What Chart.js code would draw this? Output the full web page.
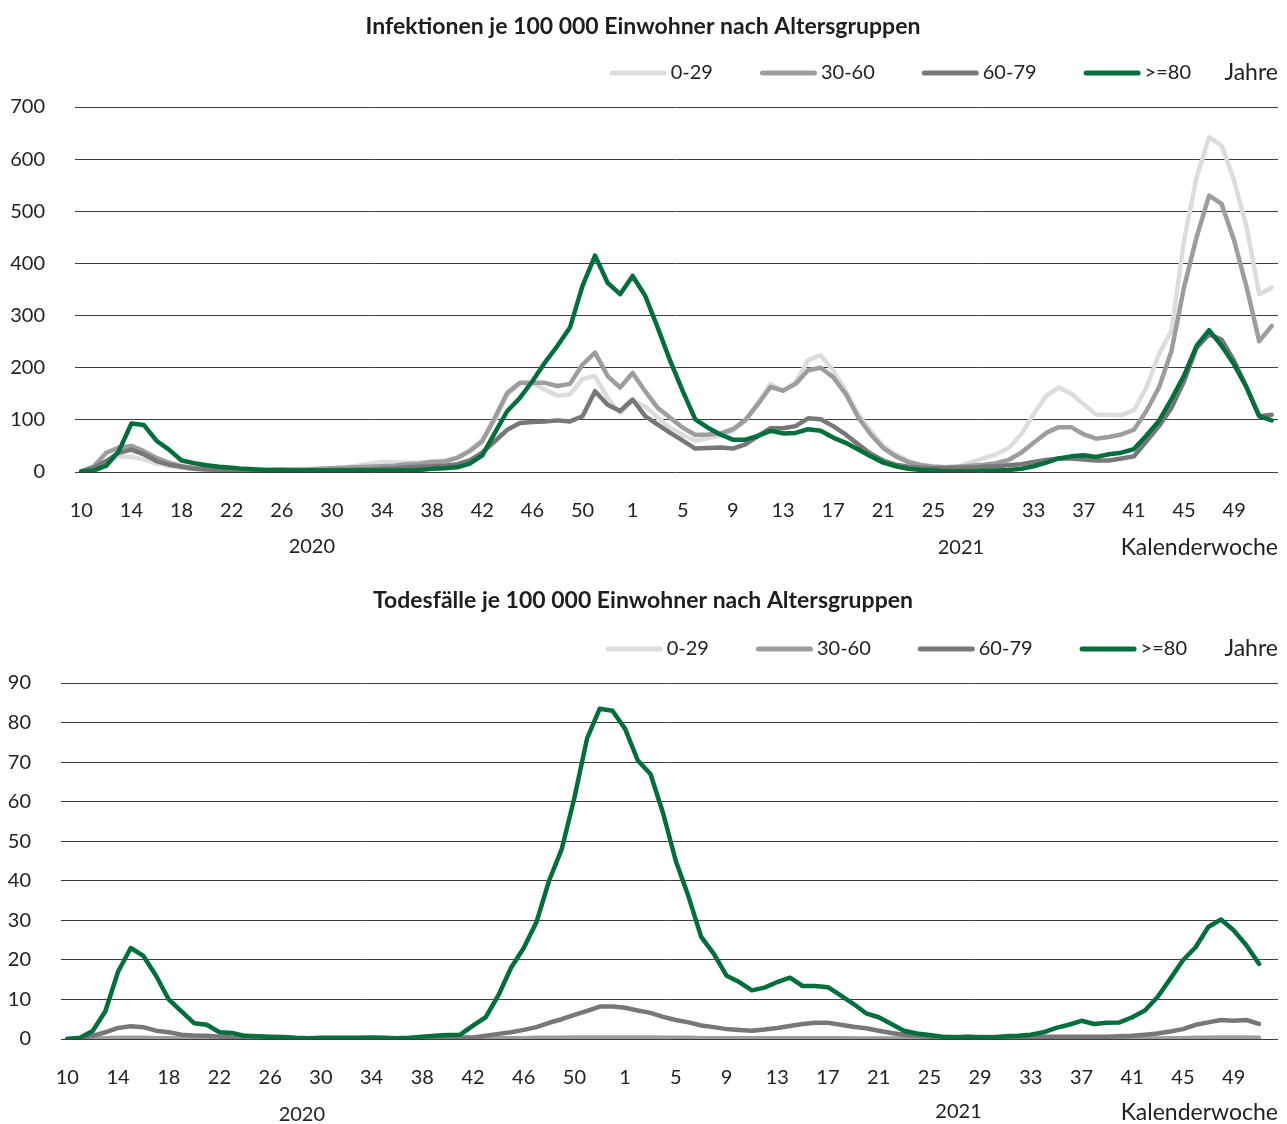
<!DOCTYPE html>
<html lang="de">
<head>
<meta charset="utf-8">
<script src="https://cdn.jsdelivr.net/npm/chart.js@4.4.1/dist/chart.umd.min.js"></script>
<style>
  html, body { margin: 0; padding: 0; background: #fff; }
  canvas { display: block; }
</style>
</head>
<body>
<canvas id="infChart" width="1287" height="565"></canvas>
<canvas id="todChart" width="1287" height="559"></canvas>
<script>
// Kalenderwochen 2020 KW10 bis 2021 KW52
const weeks2020 = [10, 11, 12, 13, 14, 15, 16, 17, 18, 19, 20, 21, 22, 23, 24, 25, 26, 27, 28, 29, 30,
  31, 32, 33, 34, 35, 36, 37, 38, 39, 40, 41, 42, 43, 44, 45, 46, 47, 48, 49, 50, 51, 52, 53];
const weeks2021 = [1, 2, 3, 4, 5, 6, 7, 8, 9, 10, 11, 12, 13, 14, 15, 16, 17, 18, 19, 20, 21, 22, 23, 24, 25, 26,
  27, 28, 29, 30, 31, 32, 33, 34, 35, 36, 37, 38, 39, 40, 41, 42, 43, 44, 45, 46, 47, 48, 49, 50, 51, 52];
const weeks = weeks2020.concat(weeks2021);

const ageGroups = ['0-29', '30-60', '60-79', '>=80'];
const colors = ['#dcdcdd', '#9d9d9f', '#77777a', '#006f3b'];

// Infektionen je 100 000 Einwohner
const inf0_29 = [1, 6, 18, 30, 29, 24, 16, 11, 8, 6, 4, 3, 3, 2, 2, 2, 3, 3, 4, 5, 7, 9, 12, 16, 19, 18,
  18, 18, 20, 22, 28, 42, 62, 100, 148, 170, 170, 158, 146, 149, 178, 184, 142, 113,
  136, 126, 104, 85, 71, 60, 65, 69, 79, 98, 134, 169, 156, 172, 214, 224, 195, 156, 111, 79,
  50, 34, 22, 14, 11, 9, 11, 19, 26, 34, 46, 72, 111, 146, 162, 150, 130, 110, 110, 109,
  118, 162, 226, 271, 444, 565, 642, 626, 559, 469, 341, 354];
const inf30_60 = [1, 11, 37, 47, 50, 40, 27, 18, 11, 8, 6, 4, 3, 3, 3, 4, 5, 5, 5, 6, 7, 8, 9, 10, 11, 12,
  15, 16, 19, 20, 27, 40, 59, 104, 152, 171, 171, 171, 165, 169, 206, 229, 184, 162,
  190, 155, 123, 104, 85, 71, 72, 74, 82, 100, 130, 163, 156, 169, 195, 200, 182, 150, 105, 72,
  46, 30, 19, 13, 10, 9, 10, 12, 14, 17, 23, 37, 56, 75, 86, 86, 72, 64, 67, 72,
  81, 117, 162, 232, 354, 450, 530, 514, 444, 354, 251, 280];
const inf60_79 = [1, 8, 21, 37, 43, 34, 21, 14, 10, 6, 5, 4, 3, 3, 3, 3, 3, 3, 3, 3, 4, 4, 5, 5, 6, 7,
  9, 10, 11, 12, 15, 22, 37, 59, 81, 94, 96, 97, 99, 97, 107, 155, 129, 117,
  139, 107, 91, 75, 60, 45, 46, 47, 45, 53, 69, 84, 84, 88, 103, 101, 88, 72, 53, 35,
  22, 14, 10, 8, 7, 7, 8, 8, 10, 11, 13, 15, 19, 23, 26, 26, 24, 22, 22, 26,
  30, 59, 88, 123, 174, 238, 264, 254, 213, 162, 107, 110];
const inf80 = [1, 3, 12, 40, 93, 90, 60, 43, 22, 17, 13, 10, 8, 6, 5, 4, 4, 3, 3, 3, 3, 3, 3, 3, 3, 3,
  3, 4, 6, 7, 9, 16, 32, 75, 117, 142, 174, 210, 242, 277, 357, 415, 363, 341,
  376, 338, 277, 213, 155, 101, 85, 72, 62, 62, 69, 79, 74, 75, 82, 79, 66, 56, 43, 30,
  18, 11, 6, 4, 3, 1, 1, 1, 2, 3, 4, 6, 11, 18, 26, 30, 32, 29, 34, 37,
  44, 70, 98, 140, 185, 242, 272, 242, 206, 162, 107, 99];

// Todesfälle je 100 000 Einwohner (bis 2021 KW51)
const tod0_29 = [0, 0, 0, 0, 0, 0, 0, 0, 0, 0, 0, 0, 0, 0, 0, 0, 0, 0, 0, 0, 0, 0, 0, 0, 0, 0,
  0, 0, 0, 0, 0, 0, 0, 0, 0, 0, 0, 0, 0, 0, 0, 0, 0, 0,
  0, 0, 0, 0, 0, 0, 0, 0, 0, 0, 0, 0, 0, 0, 0, 0, 0, 0, 0, 0,
  0, 0, 0, 0, 0, 0, 0, 0, 0, 0, 0, 0, 0, 0, 0, 0, 0, 0, 0, 0,
  0, 0, 0, 0, 0, 0, 0, 0, 0, 0, 0, null];
const tod30_60 = [0, 0, 0.1, 0.2, 0.3, 0.3, 0.3, 0.2, 0.2, 0.1, 0.1, 0.1, 0.1, 0.1, 0.1, 0, 0, 0, 0, 0, 0, 0, 0, 0, 0, 0,
  0, 0, 0, 0, 0, 0.1, 0.1, 0.1, 0.2, 0.2, 0.2, 0.3, 0.3, 0.3, 0.4, 0.4, 0.4, 0.4,
  0.4, 0.4, 0.4, 0.3, 0.3, 0.3, 0.2, 0.2, 0.2, 0.2, 0.2, 0.2, 0.2, 0.2, 0.2, 0.2, 0.2, 0.2, 0.1, 0.1,
  0.1, 0.1, 0.1, 0, 0, 0, 0, 0, 0, 0, 0, 0, 0, 0, 0.1, 0.1, 0.1, 0.1, 0.1, 0.1,
  0.1, 0.1, 0.1, 0.2, 0.2, 0.3, 0.3, 0.4, 0.4, 0.4, 0.3, null];
const tod60_79 = [0, 0.2, 0.8, 1.7, 2.8, 3.2, 3.0, 2.1, 1.7, 1.1, 0.9, 0.8, 0.6, 0.4, 0.3, 0.3, 0.3, 0.2, 0.2, 0.2,
  0.2, 0.2, 0.2, 0.2, 0.2, 0.2, 0.2, 0.2, 0.2, 0.3, 0.3, 0.4, 0.4, 0.8, 1.3, 1.7, 2.3, 3.0, 4.1, 5.0, 6.1, 7.1, 8.2, 8.2,
  7.9, 7.2, 6.6, 5.6, 4.8, 4.2, 3.4, 3.0, 2.5, 2.3, 2.1, 2.4, 2.8, 3.3, 3.8, 4.1, 4.1, 3.6, 3.1, 2.7,
  2.1, 1.5, 1.1, 0.8, 0.6, 0.5, 0.5, 0.5, 0.5, 0.5, 0.5, 0.5, 0.5, 0.6, 0.6, 0.6, 0.6, 0.6, 0.6, 0.7,
  0.8, 1.1, 1.4, 1.9, 2.5, 3.6, 4.2, 4.8, 4.6, 4.8, 3.8, null];
const tod80 = [0, 0.3, 2, 7, 17, 23, 21, 16, 10, 7, 4, 3.6, 1.7, 1.5, 0.8, 0.7, 0.6, 0.5, 0.3, 0.2,
  0.3, 0.3, 0.3, 0.3, 0.4, 0.3, 0.2, 0.3, 0.6, 0.8, 1.0, 1.1, 3.4, 5.5, 11, 18, 23, 29.5, 40, 48, 61, 76, 83.5, 83,
  78.4, 70.4, 67, 57, 45, 36, 25.8, 21.5, 16, 14.4, 12.3, 13, 14.4, 15.5, 13.4, 13.4, 13.1, 11, 8.9, 6.5,
  5.5, 3.8, 2.1, 1.4, 1.0, 0.6, 0.4, 0.6, 0.4, 0.4, 0.7, 0.8, 1.1, 1.7, 2.8, 3.6, 4.6, 3.8, 4.1, 4.2,
  5.5, 7.2, 10.6, 15.2, 19.9, 23.2, 28.3, 30.2, 27.5, 23.7, 19, null];

const FONT = 'Lato, "Noto Sans", sans-serif';
const TEXT = '#222222';
Chart.defaults.font.family = FONT;
Chart.defaults.font.size = 20;
Chart.defaults.color = TEXT;

// legend, year labels and axis caption drawn on the canvas
const notes = {
  id: 'notes',
  afterDraw(chart, args, opts) {
    const ctx = chart.ctx;
    const area = chart.chartArea;
    const x = chart.scales.x;
    const small = '20px ' + FONT;
    const word = '23px ' + FONT;
    ctx.save();
    ctx.fillStyle = TEXT;
    ctx.textBaseline = 'middle';
    ctx.textAlign = 'right';

    ctx.font = word;
    ctx.fillText(opts.unit, area.right, opts.legendY);
    let pos = area.right - opts.legendGap;
    ctx.font = small;
    const sets = chart.data.datasets;
    for (let i = sets.length - 1; i >= 0; i--) {
      const ds = sets[i];
      ctx.fillText(ds.label, pos, opts.legendY);
      const end = pos - ctx.measureText(ds.label).width - 4;
      const start = end - 57;
      ctx.beginPath();
      ctx.lineWidth = 5;
      ctx.lineCap = 'round';
      ctx.strokeStyle = ds.borderColor;
      ctx.moveTo(start + 2.5, opts.legendY);
      ctx.lineTo(end - 2.5, opts.legendY);
      ctx.stroke();
      pos = start - 47;
    }

    ctx.textAlign = 'center';
    opts.years.forEach(y => ctx.fillText(y.text, x.getPixelForValue(y.at), area.bottom + y.dy));
    ctx.textAlign = 'right';
    ctx.font = word;
    ctx.fillText(opts.axisTitle, area.right, area.bottom + opts.axisTitleDy);
    ctx.restore();
  }
};

function makeChart(id, series, cfg) {
  new Chart(document.getElementById(id), {
    type: 'line',
    data: {
      labels: weeks,
      datasets: series.map((values, i) => ({
        label: ageGroups[i],
        data: values,
        borderColor: colors[i],
        backgroundColor: colors[i],
        order: series.length - 1 - i
      }))
    },
    plugins: [notes],
    options: {
      responsive: false,
      animation: false,
      devicePixelRatio: 1,
      events: [],
      layout: { padding: { left: 8, right: 9, top: 0, bottom: 0 } },
      elements: {
        point: { radius: 0 },
        line: { borderWidth: 4.5, tension: 0, borderJoinStyle: 'round', borderCapStyle: 'round' }
      },
      scales: {
        x: {
          type: 'category',
          offset: true,
          grid: { display: false },
          border: { display: false },
          afterFit(scale) {
            scale.height = cfg.xHeight;
            scale.paddingLeft = 0;
            scale.paddingRight = 0;
          },
          ticks: {
            autoSkip: false,
            maxRotation: 0,
            padding: 19,
            color: TEXT,
            font: { size: 20 },
            callback(value, index) {
              return index % 4 === 0 ? this.getLabelForValue(value) : '';
            }
          }
        },
        y: {
          min: 0,
          max: cfg.max,
          border: { display: false },
          grid: { color: '#3d3d3d', lineWidth: 1, drawTicks: false },
          afterFit(scale) { scale.width = cfg.yWidth; },
          ticks: { stepSize: cfg.step, padding: 30, color: TEXT, font: { size: 20 } }
        }
      },
      plugins: {
        legend: { display: false },
        tooltip: { enabled: false },
        title: {
          display: true,
          text: cfg.title,
          color: '#1e1e1e',
          font: { size: 23, weight: 'bold' },
          padding: { top: cfg.titleTop, bottom: cfg.titleBottom }
        },
        notes: {
          unit: 'Jahre',
          legendY: cfg.legendY,
          legendGap: cfg.legendGap,
          axisTitle: 'Kalenderwoche',
          axisTitleDy: cfg.axisTitleDy,
          years: cfg.years
        }
      }
    }
  });
}

makeChart('infChart', [inf0_29, inf30_60, inf60_79, inf80], {
  title: 'Infektionen je 100 000 Einwohner nach Altersgruppen',
  max: 700, step: 100,
  titleTop: 13, titleBottom: 66.4,
  legendY: 73, legendGap: 87,
  yWidth: 67, xHeight: 93,
  axisTitleDy: 76,
  years: [{ text: '2020', at: 18.4, dy: 75 }, { text: '2021', at: 70.2, dy: 76 }]
});

makeChart('todChart', [tod0_29, tod30_60, tod60_79, tod80], {
  title: 'Todesfälle je 100 000 Einwohner nach Altersgruppen',
  max: 90, step: 10,
  titleTop: 22, titleBottom: 68.4,
  legendY: 84, legendGap: 91,
  yWidth: 53, xHeight: 85,
  axisTitleDy: 74,
  years: [{ text: '2020', at: 18.5, dy: 76 }, { text: '2021', at: 70.3, dy: 73 }]
});
</script>
</body>
</html>
